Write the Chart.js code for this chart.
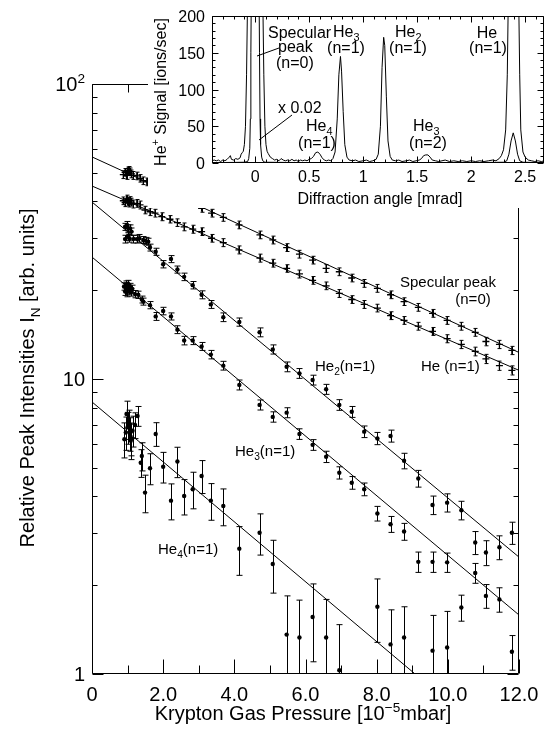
<!DOCTYPE html>
<html>
<head>
<meta charset="utf-8">
<script src="https://cdn.jsdelivr.net/npm/chart.js@4.4.1/dist/chart.umd.min.js"></script>
<style>
  body { margin: 0; background: #fff; }
  #wrap { position: relative; width: 545px; height: 739px; }
  #main { position: absolute; left: 0; top: 0; }
  #inset { position: absolute; left: 148px; top: 0; }
</style>
</head>
<body>
<div id="wrap">
  <canvas id="main" width="545" height="739"></canvas>
  <canvas id="inset" width="397" height="208"></canvas>
</div>
<script>
// ---- main plot: peak intensities vs krypton pressure ----
const specX = [0.88, 0.93, 0.97, 1.0, 1.03, 1.07, 1.11, 1.16, 1.26, 1.35, 1.44, 1.54, 1.63, 1.77, 1.96, 2.19, 2.40, 2.59, 2.83, 3.08, 3.36, 3.69, 4.13,
  4.72, 5.08, 5.47, 5.83, 6.20, 6.58, 6.95, 7.30, 7.65, 8.02, 8.39, 8.77, 9.17, 9.57, 9.98, 10.38, 10.77, 11.07, 11.45, 11.80];
const specY = [49.3, 50.2, 49.0, 50.8, 51.0, 50.4, 49.6, 49.0, 48.8, 47.9, 47.0, 46.6, 46.3, 45.1, 44.0, 42.9, 41.7, 40.6, 39.4, 37.9, 36.5, 35.3, 33.3,
  30.8, 29.6, 27.9, 26.5, 25.3, 23.7, 23.1, 22.0, 21.1, 20.3, 19.3, 18.3, 17.5, 16.7, 15.8, 15.1, 14.4, 13.4, 13.1, 12.5];
const specErr = [1.5, 1.5, 1.5, 1.5, 1.5, 1.5, 1.5, 1.5, 1.45, 1.4, 1.4, 1.4, 1.35, 1.35, 1.3, 1.3, 1.25, 1.2, 1.2, 1.15, 1.1, 1.05, 1.0,
  0.92, 0.9, 0.85, 0.8, 0.76, 0.72, 0.7, 0.66, 0.64, 0.62, 0.58, 0.55, 0.53, 0.51, 0.48, 0.46, 0.44, 0.44, 0.42, 0.4];

const he1X = [0.88, 0.93, 0.97, 1.0, 1.03, 1.07, 1.11, 1.16, 1.26, 1.35, 1.49, 1.63, 1.77, 1.96, 2.19, 2.40, 2.59, 2.83, 3.08, 3.36, 3.69, 4.13,
  4.72, 5.08, 5.47, 5.83, 6.20, 6.58, 6.95, 7.30, 7.65, 8.02, 8.39, 8.77, 9.17, 9.57, 9.98, 10.38, 10.77, 11.07, 11.45, 11.80];
const he1Y = [40.2, 39.6, 40.8, 40.0, 39.5, 40.3, 39.8, 39.2, 39.4, 38.9, 37.4, 36.9, 36.5, 35.5, 34.8, 33.9, 32.8, 32.2, 31.6, 30.0, 29.0, 27.4,
  25.7, 24.7, 23.7, 22.7, 21.6, 20.7, 19.5, 18.6, 17.9, 17.4, 16.4, 15.8, 15.1, 14.5, 13.7, 13.1, 12.4, 11.7, 11.1, 10.7];
const he1Err = [1.2, 1.2, 1.2, 1.2, 1.2, 1.2, 1.2, 1.2, 1.2, 1.2, 1.1, 1.1, 1.1, 1.1, 1.0, 1.0, 1.0, 1.0, 0.95, 0.9, 0.9, 0.85,
  0.8, 0.75, 0.7, 0.7, 0.65, 0.62, 0.6, 0.56, 0.55, 0.52, 0.5, 0.48, 0.46, 0.45, 0.43, 0.42, 0.42, 0.42, 0.4, 0.38];

const he2X = [0.93, 0.98, 1.02, 1.07, 1.11, 0.93, 1.0, 1.05, 1.16, 1.26, 1.33, 1.44, 1.51, 1.58, 1.63, 1.79, 2.0, 2.22, 2.40, 2.59, 2.83,
  3.08, 3.34, 3.69, 4.14, 4.71, 5.08, 5.47, 5.83, 6.20, 6.58, 6.95, 7.30, 7.65, 8.02, 8.39, 8.77, 9.17, 9.57, 9.98, 10.38,
  10.77, 11.07, 11.45, 11.80];
const he2Y = [32.8, 33.3, 32.4, 32.4, 31.6, 29.8, 30.4, 30.0, 29.8, 29.8, 30.0, 29.6, 29.4, 29.2, 27.9, 27.0, 24.5, 25.5, 23.5, 22.2, 20.8,
  19.3, 17.9, 16.2, 15.6, 14.4, 12.6, 11.0, 10.45, 9.92, 9.23, 8.17, 7.74, 6.63, 6.29, 6.41, 5.28, 4.60, 3.74, 3.81, 3.59,
  2.79, 2.58, 2.69, 3.01];
const he2Err = [0.9, 0.9, 0.9, 0.9, 0.9, 0.9, 0.9, 0.9, 0.9, 0.9, 0.9, 0.8, 0.8, 0.8, 0.75, 0.75, 0.7, 0.7, 0.65, 0.65, 0.6,
  0.6, 0.55, 0.55, 0.5, 0.5, 0.45, 0.42, 0.4, 0.38, 0.36, 0.34, 0.33, 0.3, 0.3, 0.3, 0.32, 0.3, 0.27, 0.27, 0.26,
  0.25, 0.25, 0.25, 0.26];

const he3X = [0.90, 0.93, 0.96, 0.98, 1.0, 1.02, 1.05, 1.08, 1.10, 1.13, 1.21, 1.30, 1.40, 1.44, 1.63, 1.79, 2.0, 2.22, 2.40, 2.59,
  2.83, 3.08, 3.34, 3.69, 4.14, 4.71, 5.08, 5.47, 5.83, 6.20, 6.58, 6.95, 7.30, 7.65, 8.02, 8.39, 8.77, 9.17, 9.57, 9.98,
  10.38, 10.77, 11.07, 11.45, 11.80];
const he3Y = [20.6, 19.8, 20.9, 19.6, 20.3, 21.0, 19.9, 20.5, 19.7, 20.2, 19.4, 19.3, 18.6, 18.3, 17.8, 16.3, 17.0, 16.3, 14.7, 13.5,
  13.5, 12.9, 12.1, 11.1, 9.55, 8.17, 7.44, 7.69, 6.51, 5.98, 5.45, 4.81, 4.45, 4.23, 3.50, 3.22, 3.04, 2.40, 2.40, 2.39,
  1.68, 2.20, 1.84, 1.79, 1.19];
const he3Err = [0.6, 0.6, 0.6, 0.6, 0.6, 0.6, 0.6, 0.6, 0.6, 0.6, 0.55, 0.55, 0.5, 0.5, 0.5, 0.5, 0.5, 0.45, 0.45, 0.45,
  0.42, 0.4, 0.4, 0.38, 0.37, 0.32, 0.3, 0.3, 0.27, 0.25, 0.24, 0.23, 0.22, 0.21, 0.2, 0.2, 0.2, 0.19, 0.19, 0.18,
  0.17, 0.17, 0.17, 0.17, 0.16];

const he4X = [0.91, 0.95, 0.97, 1.0, 1.05, 1.07, 1.09, 1.11, 1.14, 1.21, 1.28, 1.37, 1.40, 1.49, 1.63, 1.79, 2.0, 2.22, 2.40, 2.59,
  2.83, 3.08, 3.34, 3.69, 4.14, 4.71, 5.08, 5.47, 5.83, 6.20, 6.58, 6.95, 8.02, 8.39, 8.77, 9.57, 9.98];
const he4Y = [6.25, 6.58, 7.61, 6.86, 7.04, 6.54, 6.18, 6.29, 6.68, 6.98, 7.49, 5.20, 5.48, 4.12, 4.98, 6.51, 5.04, 3.87, 5.25, 4.01,
  4.23, 4.69, 3.87, 3.71, 2.66, 3.01, 2.36, 1.36, 1.33, 1.56, 1.33, 1.03, 1.69, 1.26, 1.33, 1.20, 1.23];
const he4Err = [0.85, 0.85, 0.8, 0.85, 0.8, 0.85, 0.85, 0.8, 0.8, 0.7, 0.58, 0.56, 0.6, 0.6, 0.6, 0.6, 0.6, 0.54, 0.62, 0.55,
  0.6, 0.6, 0.55, 0.53, 0.5, 0.48, 0.48, 0.48, 0.45, 0.46, 0.46, 0.44, 0.41, 0.39, 0.36, 0.38, 0.4];

// fitted exponential decays (end points)
const fitSpec = [[0, 56.6], [12, 12.3]];
const fitHe1 = [[0, 45.1], [12, 10.7]];
const fitHe2 = [[0, 39.8], [12, 2.49]];
const fitHe3 = [[0, 25.9], [12, 1.585]];
const fitHe4 = [[0, 8.36], [9.08, 1]];

const xTickValues = [0, 2, 4, 6, 8, 10, 12];
const xTickLabels = ['0', '2.0', '4.0', '6.0', '8.0', '10.0', '12.0'];
const yTickValues = [1, 10, 100];
const yTickLabels = [['1'], ['10'], ['10', ['2', 'sup']]];

// ---- inset: angular scan ----
const angle = [-0.40, -0.38, -0.36, -0.34, -0.32, -0.30, -0.28, -0.26, -0.24, -0.23, -0.22, -0.20, -0.18, -0.16, -0.14, -0.13,
  -0.12, -0.11, -0.10, -0.09, -0.08, -0.07, 0.0, 0.07, 0.08, 0.09, 0.10, 0.11, 0.12, 0.14, 0.16, 0.18, 0.20, 0.22, 0.24,
  0.26, 0.28, 0.30, 0.32, 0.34, 0.36, 0.38, 0.40, 0.42, 0.44, 0.46, 0.48, 0.50, 0.52, 0.54, 0.56, 0.58, 0.60, 0.62, 0.64,
  0.66, 0.68, 0.70, 0.72, 0.74, 0.76, 0.775, 0.79, 0.80, 0.815, 0.83, 0.85, 0.87, 0.90, 0.93, 0.96, 1.00, 1.03, 1.06, 1.09,
  1.12, 1.14, 1.16, 1.175, 1.19, 1.20, 1.215, 1.23, 1.25, 1.27, 1.30, 1.33, 1.36, 1.40, 1.43, 1.46, 1.49, 1.52, 1.54, 1.56,
  1.58, 1.60, 1.62, 1.64, 1.67, 1.70, 1.73, 1.76, 1.80, 1.84, 1.88, 1.92, 1.96, 2.00, 2.04, 2.08, 2.12, 2.16, 2.20, 2.23,
  2.26, 2.28, 2.30, 2.32, 2.335, 2.345, 2.39, 2.44, 2.45, 2.46, 2.48, 2.50, 2.53, 2.56, 2.59, 2.62, 2.65, 2.68];
const signal = [3, 4, 3, 4, 2, 4, 3, 5, 8, 10, 5, 4, 6, 5, 7, 12,
  14, 16, 25, 50, 120, 230, 600, 230, 120, 50, 25, 16, 13, 8, 6, 4, 5, 3, 6,
  4, 3, 4, 3, 5, 3, 4, 2, 4, 3, 4, 3, 5, 6, 9, 14, 15, 12, 7, 4,
  3, 4, 3, 6, 15, 60, 120, 145, 125, 70, 25, 8, 4, 3, 4, 2, 3, 4, 2, 3,
  5, 12, 50, 130, 171, 160, 90, 30, 9, 4, 3, 4, 2, 3, 4, 2, 3, 4, 6, 10,
  11, 11, 8, 4, 3, 2, 3, 4, 2, 3, 2, 3, 2, 3, 2, 3, 2, 3, 4, 3,
  6, 10, 18, 45, 120, 230, 600, 230, 120, 45, 15, 8, 4, 3, 2, 3, 2, 3];
const angleScaled = [-0.40, -0.20, -0.10, -0.07, -0.06, -0.05, -0.045, -0.04, -0.035, 0.0, 0.035, 0.04, 0.045, 0.05, 0.06,
  0.07, 0.09, 0.5, 1.0, 1.5, 2.0, 2.30, 2.33, 2.35, 2.37, 2.39, 2.41, 2.43, 2.45, 2.48, 2.68];
const signalScaled = [0.5, 0.8, 1, 2, 6, 20, 60, 150, 250, 600, 250, 150, 60, 25, 8,
  3, 1, 0.5, 0.5, 0.5, 0.5, 1, 3, 12, 30, 41, 30, 12, 3, 1, 0.5];

const insetXTicks = [0, 0.5, 1, 1.5, 2, 2.5];
const insetXLabels = ['0', '0.5', '1', '1.5', '2', '2.5'];
const insetYTicks = [0, 50, 100, 150, 200];

const FONT = '"Liberation Sans", Arial, Helvetica, sans-serif';

function rich(ctx, parts, x, y, size, align) {
  const seg = parts.map(p => {
    const t = typeof p === 'string' ? p : p[0];
    const m = typeof p === 'string' ? '' : p[1];
    const s = m ? size * 0.68 : size;
    ctx.font = s + 'px ' + FONT;
    return { t: t, m: m, s: s, w: ctx.measureText(t).width };
  });
  const total = seg.reduce((a, g) => a + g.w, 0);
  let cx = align === 'center' ? x - total / 2 : align === 'right' ? x - total : x;
  ctx.textAlign = 'left';
  ctx.textBaseline = 'alphabetic';
  ctx.fillStyle = '#000';
  seg.forEach(g => {
    ctx.font = g.s + 'px ' + FONT;
    const dy = g.m === 'sub' ? size * 0.28 : g.m === 'sup' ? -size * 0.42 : 0;
    ctx.fillText(g.t, cx, y + dy);
    cx += g.w;
  });
}

function richRotated(ctx, parts, x, y, size) {
  ctx.save();
  ctx.translate(x, y);
  ctx.rotate(-Math.PI / 2);
  rich(ctx, parts, 0, 0, size, 'center');
  ctx.restore();
}

// inward ticks on all four sides plus the frame
function makeFrame(xt, yt) {
  return {
    id: 'frameTicks',
    afterDatasetsDraw(chart) {
      const { ctx, chartArea: a, scales: { x, y } } = chart;
      const L = Math.round(a.left) + 0.5, R = Math.round(a.right) - 0.5;
      const T = Math.round(a.top) + 0.5, B = Math.round(a.bottom) - 0.5;
      ctx.save();
      ctx.strokeStyle = '#000';
      ctx.lineWidth = 1;
      ctx.beginPath();
      ctx.rect(L, T, R - L, B - T);
      xt.forEach(t => {
        const p = Math.round(x.getPixelForValue(t[0])) + 0.5;
        ctx.moveTo(p, B); ctx.lineTo(p, B - t[1]);
        ctx.moveTo(p, T); ctx.lineTo(p, T + t[1]);
      });
      yt.forEach(t => {
        const p = Math.round(y.getPixelForValue(t[0])) + 0.5;
        ctx.moveTo(L, p); ctx.lineTo(L + t[1], p);
        ctx.moveTo(R, p); ctx.lineTo(R - t[1], p);
      });
      ctx.stroke();
      ctx.restore();
    }
  };
}

const errorBars = {
  id: 'errorBars',
  beforeDatasetsDraw(chart) {
    const { ctx, chartArea: a, scales: { y } } = chart;
    ctx.save();
    ctx.beginPath();
    ctx.rect(a.left, a.top, a.right - a.left, a.bottom - a.top);
    ctx.clip();
    ctx.strokeStyle = '#000';
    ctx.lineWidth = 1;
    chart.data.datasets.forEach((ds, di) => {
      if (!ds.errors) return;
      const meta = chart.getDatasetMeta(di);
      meta.data.forEach((el, i) => {
        const v = ds.data[i].y, e = ds.errors[i];
        const top = y.getPixelForValue(v + e);
        const low = v - e > 0 ? y.getPixelForValue(v - e) : a.bottom + 40;
        const xx = Math.round(el.x) + 0.5, c = ds.capHalf;
        ctx.beginPath();
        ctx.moveTo(xx, top); ctx.lineTo(xx, low);
        ctx.moveTo(xx - c, top); ctx.lineTo(xx + c, top);
        if (v - e > 0) { ctx.moveTo(xx - c, low); ctx.lineTo(xx + c, low); }
        ctx.stroke();
      });
    });
    ctx.restore();
  }
};

const pts = (xs, ys) => xs.map((x, i) => ({ x: x, y: ys[i] }));
const seg = f => f.map(p => ({ x: p[0], y: p[1] }));

const mainSets = [];
[fitSpec, fitHe1, fitHe2, fitHe3, fitHe4].forEach(f => mainSets.push({
  data: seg(f), showLine: true, borderColor: '#000', borderWidth: 1, pointRadius: 0, fill: false
}));
[[specX, specY, specErr, 'cross'], [he1X, he1Y, he1Err, 'cross'], [he2X, he2Y, he2Err, 'circle'],
 [he3X, he3Y, he3Err, 'circle'], [he4X, he4Y, he4Err, 'circle']].forEach(s => {
  const cross = s[3] === 'cross';
  mainSets.push({
    data: pts(s[0], s[1]), errors: s[2], capHalf: cross ? 2 : 3,
    showLine: false, pointStyle: s[3], pointRadius: cross ? 3.5 : 2.2,
    borderColor: '#000', backgroundColor: '#000', borderWidth: cross ? 1.3 : 0
  });
});

const mainXT = [];
for (let v = 0; v <= 12; v++) mainXT.push([v, v % 2 === 0 ? 14 : 8]);
const mainYT = [];
[1, 10].forEach(d => { for (let m = 1; m <= 9; m++) mainYT.push([m * d, m === 1 ? 11 : 5]); });
mainYT.push([100, 11]);

const mainText = {
  id: 'mainText',
  afterDraw(chart) {
    const { ctx, scales: { x, y } } = chart;
    xTickValues.forEach((v, i) => rich(ctx, [xTickLabels[i]], x.getPixelForValue(v), 701, 20, 'center'));
    yTickValues.forEach((v, i) => rich(ctx, yTickLabels[i], 85, y.getPixelForValue(v) + 7, 20, 'right'));
    rich(ctx, ['Krypton Gas Pressure [10', ['\u22125', 'sup'], 'mbar]'], 303, 720, 20, 'center');
    richRotated(ctx, ['Relative Peak Intensities I', ['N', 'sub'], ' [arb. units]'], 34, 378, 20);
    rich(ctx, ['Specular peak'], 400, 287, 15, 'left');
    rich(ctx, ['(n=0)'], 473, 304, 15, 'center');
    rich(ctx, ['He (n=1)'], 421, 371, 15, 'left');
    rich(ctx, ['He', ['2', 'sub'], '(n=1)'], 315, 371, 15, 'left');
    rich(ctx, ['He', ['3', 'sub'], '(n=1)'], 235, 456, 15, 'left');
    rich(ctx, ['He', ['4', 'sub'], '(n=1)'], 158, 554, 15, 'left');
  }
};

new Chart(document.getElementById('main'), {
  type: 'scatter',
  data: { datasets: mainSets },
  options: {
    responsive: false, animation: false, devicePixelRatio: 1,
    layout: { padding: { left: 92, top: 84, right: 26, bottom: 65 } },
    scales: {
      x: { type: 'linear', min: 0, max: 12, display: false },
      y: { type: 'logarithmic', min: 1, max: 100, display: false }
    },
    plugins: { legend: { display: false }, tooltip: { enabled: false } }
  },
  plugins: [errorBars, makeFrame(mainXT, mainYT), mainText]
});

// ---- inset chart ----
const insetXT = [];
for (let k = -4; k <= 26; k++) insetXT.push([k / 10, k % 5 === 0 ? 6 : 3]);
const insetYT = [];
for (let v = 0; v <= 200; v += 10) insetYT.push([v, v % 50 === 0 ? 6 : 3]);

const whiteBg = {
  id: 'whiteBg',
  beforeDraw(chart) {
    const ctx = chart.ctx;
    ctx.save();
    ctx.fillStyle = '#fff';
    ctx.fillRect(0, 0, chart.width, chart.height);
    ctx.restore();
  }
};

const insetText = {
  id: 'insetText',
  afterDraw(chart) {
    const { ctx, scales: { x, y } } = chart;
    insetXTicks.forEach((v, i) => rich(ctx, [insetXLabels[i]], x.getPixelForValue(v), 182, 16, 'center'));
    insetYTicks.forEach(v => rich(ctx, [String(v)], 57, y.getPixelForValue(v) + 6, 16, 'right'));
    rich(ctx, ['Diffraction angle [mrad]'], 232, 204, 16, 'center');
    richRotated(ctx, ['He', ['+', 'sup'], ' Signal [ions/sec]'], 18, 92, 16);
    rich(ctx, ['Specular'], 120, 38, 16, 'left');
    rich(ctx, ['peak'], 130, 52, 16, 'left');
    rich(ctx, ['(n=0)'], 128, 68, 16, 'left');
    rich(ctx, ['He', ['3', 'sub']], 185, 37, 16, 'left');
    rich(ctx, ['(n=1)'], 198, 53, 16, 'center');
    rich(ctx, ['He', ['2', 'sub']], 247, 37, 16, 'left');
    rich(ctx, ['(n=1)'], 260, 53, 16, 'center');
    rich(ctx, ['He'], 339, 38, 16, 'center');
    rich(ctx, ['(n=1)'], 340, 53, 16, 'center');
    rich(ctx, ['x 0.02'], 130, 113, 16, 'left');
    rich(ctx, ['He', ['4', 'sub']], 158, 131, 16, 'left');
    rich(ctx, ['(n=1)'], 169, 148, 16, 'center');
    rich(ctx, ['He', ['3', 'sub']], 265, 131, 16, 'left');
    rich(ctx, ['(n=2)'], 280, 148, 16, 'center');
    ctx.save();
    ctx.strokeStyle = '#000';
    ctx.lineWidth = 1;
    ctx.beginPath();
    ctx.moveTo(131, 48); ctx.lineTo(109, 56);
    ctx.moveTo(144, 115); ctx.lineTo(111, 140);
    ctx.stroke();
    ctx.restore();
  }
};

new Chart(document.getElementById('inset'), {
  type: 'scatter',
  data: {
    datasets: [
      { data: pts(angle, signal), showLine: true, borderColor: '#000', borderWidth: 1, pointRadius: 0, fill: false },
      { data: pts(angleScaled, signalScaled), showLine: true, borderColor: '#000', borderWidth: 1, pointRadius: 0, fill: false }
    ]
  },
  options: {
    responsive: false, animation: false, devicePixelRatio: 1,
    layout: { padding: { left: 64, top: 16, right: 1, bottom: 45 } },
    scales: {
      x: { type: 'linear', min: -0.4, max: 2.675, display: false },
      y: { type: 'linear', min: 0, max: 200, display: false }
    },
    plugins: { legend: { display: false }, tooltip: { enabled: false } }
  },
  plugins: [whiteBg, makeFrame(insetXT, insetYT), insetText]
});
</script>
</body>
</html>
